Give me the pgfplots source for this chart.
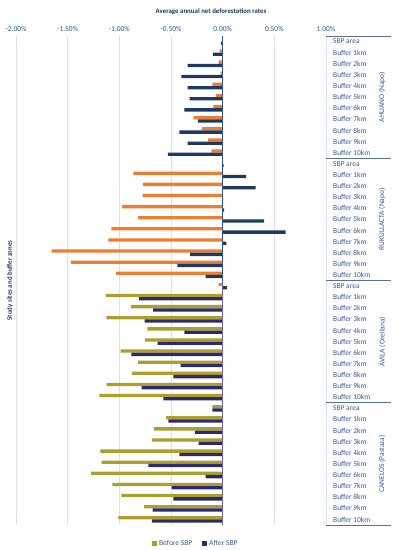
\documentclass[border=0pt]{standalone}
\usepackage{fontspec}
\setmainfont{Carlito}
\usepackage{pgfplots}
\usepackage{pgfplotstable}
\pgfplotsset{compat=1.18}
\definecolor{cOrange}{HTML}{ED7D31}
\definecolor{cBlue}{HTML}{1F3864}
\definecolor{cOlive}{HTML}{ABA02B}
\definecolor{cNavy}{HTML}{2C2A6E}
\definecolor{cText}{HTML}{2F5597}
\definecolor{cLab}{HTML}{3A5A96}
\definecolor{cTitle}{HTML}{1F3864}
\definecolor{cGrid}{HTML}{DAE3F3}
\definecolor{cSep}{HTML}{5B7190}
\definecolor{cZero}{HTML}{2F5597}
\definecolor{cZeroB}{HTML}{6F5FB5}

% rows 0-21: AHUANO and RUKULLACTA
\pgfplotstableread{
row before after
0 -0.005 -0.015
1 -0.03 -0.095
2 -0.04 -0.34
3 -0.02 -0.40
4 -0.10 -0.34
5 -0.065 -0.32
6 -0.09 -0.37
7 -0.28 -0.24
8 -0.20 -0.42
9 -0.14 -0.34
10 -0.11 -0.53
11 0.0 0.01
12 -0.865 0.226
13 -0.77 0.32
14 -0.774 0.005
15 -0.974 0.013
16 -0.82 0.40
17 -1.077 0.61
18 -1.106 0.035
19 -1.655 -0.316
20 -1.468 -0.439
21 -1.03 -0.165
}\tabNapo
% rows 22-43: AVILA and CANELOS
\pgfplotstableread{
row before after
22 -0.04 0.04
23 -1.13 -0.81
24 -0.887 -0.674
25 -1.126 -0.755
26 -0.729 -0.371
27 -0.752 -0.629
28 -0.987 -0.884
29 -0.819 -0.406
30 -0.877 -0.477
31 -1.123 -0.784
32 -1.194 -0.574
33 -0.10 -0.10
34 -0.548 -0.526
35 -0.665 -0.268
36 -0.684 -0.232
37 -1.184 -0.419
38 -1.171 -0.719
39 -1.274 -0.165
40 -1.068 -0.494
41 -0.981 -0.477
42 -0.761 -0.677
43 -1.01 -0.684
}\tabOther

\begin{document}
\fontsize{7.5}{9}\selectfont
\begin{tikzpicture}
\path[use as bounding box] (0,0) rectangle (399bp,550bp);
\begin{axis}[
  at={(16bp,25bp)}, anchor=south west,
  scale only axis, width=310bp, height=489bp,
  xmin=-2, xmax=1, ymin=-0.5, ymax=43.5, y dir=reverse,
  xbar, bar width=3.3bp,
  xtick={-2,-1.5,-1,-0.5,0,0.5,1},
  xticklabels={-2.00\%,-1.50\%,-1.00\%,-0.50\%,0.00\%,0.50\%,1.00\%},
  xticklabel pos=top,
  xticklabel style={font=\fontsize{7.5}{9}\selectfont, text=cText, yshift=2bp},
  ytick={0,...,43},
  yticklabels={SBP area,Buffer 1km,Buffer 2km,Buffer 3km,Buffer 4km,Buffer 5km,Buffer 6km,Buffer 7km,Buffer 8km,Buffer 9km,Buffer 10km,
               SBP area,Buffer 1km,Buffer 2km,Buffer 3km,Buffer 4km,Buffer 5km,Buffer 6km,Buffer 7km,Buffer 8km,Buffer 9km,Buffer 10km,
               SBP area,Buffer 1km,Buffer 2km,Buffer 3km,Buffer 4km,Buffer 5km,Buffer 6km,Buffer 7km,Buffer 8km,Buffer 9km,Buffer 10km,
               SBP area,Buffer 1km,Buffer 2km,Buffer 3km,Buffer 4km,Buffer 5km,Buffer 6km,Buffer 7km,Buffer 8km,Buffer 9km,Buffer 10km},
  yticklabel pos=right,
  yticklabel style={font=\fontsize{7.5}{9}\selectfont, text=cLab, anchor=west, xshift=4.5bp},
  major tick length=0pt,
  tick style={draw=none},
  axis line style={draw=none},
  xmajorgrids, grid style={cGrid, line width=0.7bp},
  clip=false,
  legend style={at={(0.58,-0.037)}, anchor=center, draw=none, fill=none,
    legend columns=2, font=\fontsize{7.5}{9}\selectfont, text=cLab,
    /tikz/every even column/.append style={column sep=8bp}},
  legend image code/.code={\fill[#1] (0bp,-2.5bp) rectangle (5bp,2.5bp);},
]
\addplot[draw=none, fill=cOrange, bar shift=1.65bp, forget plot] table[x=before, y=row] {\tabNapo};
\addplot[draw=none, fill=cBlue, bar shift=-1.65bp, forget plot] table[x=after, y=row] {\tabNapo};
\addplot[draw=none, fill=cOlive, bar shift=1.65bp] table[x=before, y=row] {\tabOther};
\addlegendentry{Before SBP}
\addplot[draw=none, fill=cNavy, bar shift=-1.65bp] table[x=after, y=row] {\tabOther};
\addlegendentry{After SBP}
% zero line
\draw[cZero, line width=0.8bp] (axis cs:0,-0.5) -- (axis cs:0,21.5);
\draw[cZeroB, line width=0.8bp] (axis cs:0,21.5) -- (axis cs:0,43.5);
% category box
\draw[cGrid, line width=0.6bp] (axis cs:1,-0.5) -- (axis cs:1,43.5);
\draw[cSep, line width=0.9bp] (axis cs:1,-0.5) -- (axis cs:1.629,-0.5);
\draw[cSep, line width=0.9bp] (axis cs:1,10.5) -- (axis cs:1.629,10.5);
\draw[cSep, line width=0.9bp] (axis cs:1,21.5) -- (axis cs:1.629,21.5);
\draw[cSep, line width=0.9bp] (axis cs:1,32.5) -- (axis cs:1.629,32.5);
\draw[cSep, line width=0.9bp] (axis cs:1,43.5) -- (axis cs:1.629,43.5);
\node[rotate=90, text=cLab, font=\fontsize{7.5}{9}\selectfont] at (axis cs:1.542,5) {AHUANO (Napo)};
\node[rotate=90, text=cLab, font=\fontsize{7.5}{9}\selectfont] at (axis cs:1.542,16) {RUKULLACTA (Napo)};
\node[rotate=90, text=cLab, font=\fontsize{7.5}{9}\selectfont] at (axis cs:1.542,27) {ÁVILA (Orellana)};
\node[rotate=90, text=cLab, font=\fontsize{7.5}{9}\selectfont] at (axis cs:1.542,38) {CANELOS (Pastaza)};
\end{axis}
\node[text=cTitle, font=\bfseries\fontsize{6.9}{9}\selectfont] at (211bp,538bp) {Average annual net deforestation rates};
\node[rotate=90, text=cTitle, font=\bfseries\fontsize{6.9}{9}\selectfont] at (10bp,269.5bp) {Study sites and buffer zones};
\end{tikzpicture}
\end{document}
